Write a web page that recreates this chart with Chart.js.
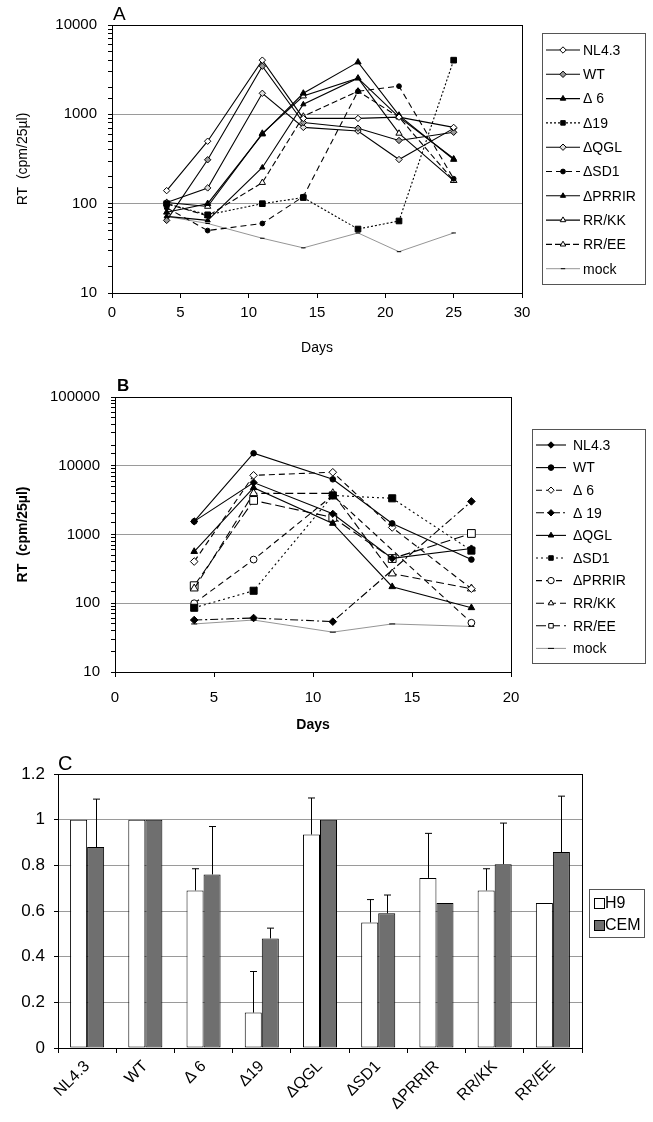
<!DOCTYPE html>
<html>
<head>
<meta charset="utf-8">
<title>RT activity of Nef mutants</title>
<script src="https://cdn.jsdelivr.net/npm/chart.js@4.4.1/dist/chart.umd.min.js"></script>
<style>
  html, body { margin: 0; padding: 0; background: #fff; }
  body { position: relative; width: 653px; height: 1122px; overflow: hidden; }
  .panel { position: absolute; left: 0; width: 653px; }
</style>
</head>
<body>
<div class="panel" style="top:0;height:365px"><canvas id="chartA" width="653" height="365"></canvas></div>
<div class="panel" style="top:365px;height:375px"><canvas id="chartB" width="653" height="375"></canvas></div>
<div class="panel" style="top:740px;height:382px"><canvas id="chartC" width="653" height="382"></canvas></div>
<script>
// ---- panel A: RT in H9 cells (cpm/25µl) ----
const daysA = [4, 7, 11, 14, 18, 21, 25];
const namesA = ["NL4.3", "WT", "\u0394 6", "\u039419", "\u0394QGL", "\u0394SD1", "\u0394PRRIR", "RR/KK", "RR/EE", "mock"];
const a_NL43   = [140, 500, 4040, 900, 900, 930, 714];
const a_WT     = [65, 310, 3460, 810, 700, 510, 630];
const a_d6     = [80, 100, 600, 1720, 3840, 975, 312];
const a_d19    = [100, 75, 100, 117, 52, 64, 4040];
const a_dQGL   = [103, 150, 1720, 714, 650, 312, 696];
const a_dSD1   = [90, 50, 60, 120, 1813, 2065, 190];
const a_dPRRIR = [72, 65, 254, 1295, 2540, 930, 320];
const a_RRKK   = [103, 93, 612, 1600, 2540, 612, 181];
const a_RREE   = [100, 73, 172, 950, 1813, 930, 181];
const a_mock   = [72, 60, 41, 32, 47, 29, 47];

// ---- panel B: RT in CEM cells ----
const daysB = [4, 7, 11, 14, 18];
const namesB = ["NL4.3", "WT", "\u0394 6", "\u0394 19", "\u0394QGL", "\u0394SD1", "\u0394PRRIR", "RR/KK", "RR/EE", "mock"];
const b_NL43   = [1550, 5700, 2000, 450, 625];
const b_WT     = [1550, 15200, 6350, 1450, 432];
const b_d6     = [404, 7260, 8040, 1265, 163];
const b_d19    = [57, 61, 54, null, 3030];
const b_dQGL   = [565, 4800, 1450, 174, 86];
const b_dSD1   = [86, 152, 3700, 3360, 583];
const b_dPRRIR = [100, 432, 3700, null, 52];
const b_RRKK   = [163, 3970, 3970, 270, 163];
const b_RREE   = [180, 3130, 1770, 447, 1035];
const b_mock   = [50, 57, 38, 50, 46];

// ---- panel C: relative infectivity ----
const mutants = ["NL4.3", "WT", "\u0394 6", "\u039419", "\u0394QGL", "\u0394SD1", "\u0394PRRIR", "RR/KK", "RR/EE"];
const h9   = [1.0, 1.0, 0.69, 0.155, 0.935, 0.55, 0.745, 0.69, 0.635];
const h9Err  = [null, null, 0.095, 0.18, 0.16, 0.10, 0.195, 0.095, null];
const cem  = [0.88, 1.0, 0.76, 0.48, 1.0, 0.59, 0.635, 0.805, 0.858];
const cemErr = [0.21, null, 0.21, 0.045, null, 0.08, null, 0.18, 0.245];

Chart.defaults.font.family = '"Liberation Sans", Arial, Helvetica, sans-serif';
Chart.defaults.color = "#000";
Chart.defaults.animation = false;

function marker(ctx, style, r, x, y) {
  if (Chart.helpers && Chart.helpers.drawPoint) {
    Chart.helpers.drawPoint(ctx, { pointStyle: style, radius: r, rotation: 0, borderWidth: 1 }, x, y);
    return;
  }
  ctx.beginPath();
  ctx.arc(x, y, r, 0, Math.PI * 2);
  ctx.fill();
  ctx.stroke();
}

// frame round the plot, panel letter, boxed legend
const decor = {
  id: "decor",
  beforeDatasetsDraw(chart) {
    const { ctx, chartArea: a } = chart;
    ctx.save();
    ctx.strokeStyle = "#000";
    ctx.lineWidth = 1;
    ctx.strokeRect(Math.round(a.left) + 0.5, Math.round(a.top) + 0.5,
      Math.round(a.right - a.left), Math.round(a.bottom - a.top));
    ctx.restore();
  },
  afterDraw(chart, args, o) {
    const ctx = chart.ctx;
    ctx.save();
    ctx.fillStyle = "#000";
    ctx.font = o.letterFont;
    ctx.textBaseline = "alphabetic";
    ctx.fillText(o.letter, o.letterX, o.letterY);

    const L = o.legend;
    ctx.strokeStyle = "#555";
    ctx.lineWidth = 1;
    ctx.strokeRect(L.x + 0.5, L.y + 0.5, L.w, L.h);
    ctx.font = L.font;
    ctx.textBaseline = "middle";
    chart.data.datasets.forEach((ds, i) => {
      const cy = L.first + i * L.step;
      if (L.bars) {
        ctx.fillStyle = ds.backgroundColor;
        ctx.strokeStyle = "#000";
        ctx.fillRect(L.x + 5, cy - 5, 10, 10);
        ctx.strokeRect(L.x + 5.5, cy - 4.5, 10, 10);
      } else {
        ctx.strokeStyle = ds.borderColor;
        ctx.lineWidth = ds.borderWidth;
        ctx.setLineDash(ds.borderDash || []);
        ctx.beginPath();
        ctx.moveTo(L.x + 4, cy);
        ctx.lineTo(L.x + 4 + L.lineLen, cy);
        ctx.stroke();
        ctx.setLineDash([]);
        ctx.lineWidth = 1;
        ctx.fillStyle = ds.pointBackgroundColor;
        ctx.strokeStyle = "#000";
        marker(ctx, ds.pointStyle, Math.min(ds.pointRadius, 3.2), L.x + 4 + L.lineLen / 2, cy);
      }
      ctx.fillStyle = "#000";
      ctx.fillText(ds.label, L.textX, cy + 1);
    });
    ctx.restore();
  }
};

// upper error bars for panel C
const errorBars = {
  id: "errorBars",
  afterDatasetsDraw(chart) {
    const ctx = chart.ctx, yScale = chart.scales.y;
    ctx.save();
    ctx.strokeStyle = "#000";
    ctx.lineWidth = 1;
    chart.data.datasets.forEach((ds, di) => {
      if (!ds.errors) return;
      chart.getDatasetMeta(di).data.forEach((bar, i) => {
        const e = ds.errors[i];
        if (e == null) return;
        const x = Math.round(bar.x) + 0.5;
        const top = yScale.getPixelForValue(ds.data[i] + e);
        ctx.beginPath();
        ctx.moveTo(x, bar.y);
        ctx.lineTo(x, top);
        ctx.moveTo(x - 3.5, top);
        ctx.lineTo(x + 3.5, top);
        ctx.stroke();
      });
    });
    ctx.restore();
  }
};

function lineSet(label, days, values, style) {
  return Object.assign({
    label,
    data: days.map((d, i) => ({ x: d, y: values[i] })),
    borderColor: "#000",
    borderWidth: 1.1,
    pointBorderColor: "#000",
    pointBorderWidth: 1,
    tension: 0,
    fill: false,
    spanGaps: true
  }, style);
}

const isDecade = v => Math.abs(Math.log10(v) - Math.round(Math.log10(v))) < 1e-9;

function logOptions(o) {
  return {
    responsive: false,
    layout: { padding: o.padding },
    plugins: { legend: { display: false }, tooltip: { enabled: false }, decor: o.decor },
    scales: {
      x: {
        type: "linear", min: 0, max: o.xMax,
        afterFit: s => { s.height = o.xHeight; },
        ticks: { stepSize: 5, font: { size: 15 }, padding: o.xTickPad },
        grid: { drawOnChartArea: false, tickLength: 5, tickColor: "#000" },
        border: { display: false },
        title: { display: true, text: "Days", font: { size: 14, weight: o.bold ? "bold" : "normal" }, padding: o.titlePad }
      },
      y: {
        type: "logarithmic", min: 10, max: o.yMax,
        afterFit: s => { s.width = o.yWidth; },
        ticks: { font: { size: 15 }, padding: 11, autoSkip: false,
          callback: v => isDecade(v) ? String(v) : "" },
        grid: {
          color: c => (c.tick && isDecade(c.tick.value)) ? "#9a9a9a" : "rgba(0,0,0,0)",
          tickColor: "#000", tickLength: 4
        },
        border: { display: false },
        title: { display: true, text: "RT  (cpm/25\u00b5l)", font: { size: 14, weight: o.bold ? "bold" : "normal" }, padding: { top: 15, bottom: 6 } }
      }
    }
  };
}

// ---- chart A ----
const valuesA = [a_NL43, a_WT, a_d6, a_d19, a_dQGL, a_dSD1, a_dPRRIR, a_RRKK, a_RREE, a_mock];
const stylesA = [
  { pointStyle: "rectRot", pointRadius: 3.2, pointBackgroundColor: "#fff" },
  { pointStyle: "rectRot", pointRadius: 3.2, pointBackgroundColor: "#999" },
  { pointStyle: "triangle", pointRadius: 3.6, pointBackgroundColor: "#000" },
  { pointStyle: "rect", pointRadius: 4, pointBackgroundColor: "#000", borderDash: [2, 2] },
  { pointStyle: "rectRot", pointRadius: 3.2, pointBackgroundColor: "#ddd" },
  { pointStyle: "circle", pointRadius: 2.4, pointBackgroundColor: "#000", borderDash: [6, 4] },
  { pointStyle: "triangle", pointRadius: 3, pointBackgroundColor: "#000" },
  { pointStyle: "triangle", pointRadius: 3.6, pointBackgroundColor: "#fff" },
  { pointStyle: "triangle", pointRadius: 3.6, pointBackgroundColor: "#fff", borderDash: [6, 3] },
  { pointStyle: "line", pointRadius: 2.2, pointBackgroundColor: "#000", borderColor: "#7a7a7a", borderWidth: 0.8 }
];
new Chart(document.getElementById("chartA"), {
  type: "line",
  data: { datasets: namesA.map((n, i) => lineSet(n, daysA, valuesA[i], stylesA[i])) },
  options: logOptions({
    padding: { left: 0, right: 131, top: 25, bottom: 0 },
    xMax: 30, yMax: 10000, xHeight: 72, yWidth: 112, bold: false, xTickPad: 6,
    titlePad: { top: 10, bottom: 8 },
    decor: {
      letter: "A", letterFont: "19px 'Liberation Sans', Arial", letterX: 113, letterY: 20,
      legend: { x: 542, y: 33, w: 103, h: 251, first: 50, step: 24.3, lineLen: 34, textX: 583, font: "14px 'Liberation Sans', Arial" }
    }
  }),
  plugins: [decor]
});

// ---- chart B ----
const valuesB = [b_NL43, b_WT, b_d6, b_d19, b_dQGL, b_dSD1, b_dPRRIR, b_RRKK, b_RREE, b_mock];
const stylesB = [
  { pointStyle: "rectRot", pointRadius: 3.6, pointBackgroundColor: "#000" },
  { pointStyle: "circle", pointRadius: 2.8, pointBackgroundColor: "#000" },
  { pointStyle: "rectRot", pointRadius: 3.8, pointBackgroundColor: "#fff", borderDash: [6, 4] },
  { pointStyle: "rectRot", pointRadius: 3.8, pointBackgroundColor: "#000", borderDash: [8, 3, 2, 3] },
  { pointStyle: "triangle", pointRadius: 3.8, pointBackgroundColor: "#000" },
  { pointStyle: "rect", pointRadius: 5, pointBackgroundColor: "#000", borderDash: [2, 3] },
  { pointStyle: "circle", pointRadius: 3.4, pointBackgroundColor: "#fff", borderDash: [6, 4] },
  { pointStyle: "triangle", pointRadius: 4.6, pointBackgroundColor: "#fff", borderDash: [8, 4] },
  { pointStyle: "rect", pointRadius: 5.5, pointBackgroundColor: "#fff", borderDash: [10, 4] },
  { pointStyle: "line", pointRadius: 3, pointBackgroundColor: "#000", borderColor: "#7a7a7a", borderWidth: 0.8 }
];
new Chart(document.getElementById("chartB"), {
  type: "line",
  data: { datasets: namesB.map((n, i) => lineSet(n, daysB, valuesB[i], stylesB[i])) },
  options: logOptions({
    padding: { left: 0, right: 142, top: 32, bottom: 0 },
    xMax: 20, yMax: 100000, xHeight: 68, yWidth: 115, bold: true, xTickPad: 12,
    titlePad: { top: 8, bottom: 6 },
    decor: {
      letter: "B", letterFont: "bold 17px 'Liberation Sans', Arial", letterX: 117, letterY: 26,
      legend: { x: 532, y: 64, w: 113, h: 234, first: 80, step: 22.6, lineLen: 30, textX: 573, font: "14px 'Liberation Sans', Arial" }
    }
  }),
  plugins: [decor]
});

// ---- chart C ----
new Chart(document.getElementById("chartC"), {
  type: "bar",
  data: {
    labels: mutants,
    datasets: [
      { label: "H9", data: h9, errors: h9Err, backgroundColor: "#ffffff", borderColor: "#000", borderWidth: 1, borderSkipped: false, barPercentage: 1, categoryPercentage: 0.585 },
      { label: "CEM", data: cem, errors: cemErr, backgroundColor: "#6f6f6f", borderColor: "#000", borderWidth: 1, borderSkipped: false, barPercentage: 1, categoryPercentage: 0.585 }
    ]
  },
  options: {
    responsive: false,
    layout: { padding: { left: 0, right: 71, top: 34, bottom: 0 } },
    plugins: {
      legend: { display: false }, tooltip: { enabled: false },
      decor: {
        letter: "C", letterFont: "20px 'Liberation Sans', Arial", letterX: 58, letterY: 30,
        legend: { x: 589, y: 149, w: 55, h: 48, first: 163, step: 22, bars: true, textX: 605, font: "16px 'Liberation Sans', Arial" }
      }
    },
    scales: {
      x: {
        afterFit: s => { s.height = 74; },
        ticks: { font: { size: 16 }, minRotation: 45, maxRotation: 45, padding: 4 },
        grid: { drawOnChartArea: false, tickLength: 5, tickColor: "#000", offset: true },
        border: { display: false }
      },
      y: {
        min: 0, max: 1.2,
        afterFit: s => { s.width = 58; },
        ticks: { stepSize: 0.2, font: { size: 17 }, padding: 9,
          callback: v => String(Math.round(v * 10) / 10) },
        grid: {
          color: c => (c.tick && c.tick.value > 0.01 && c.tick.value < 1.19) ? "#9a9a9a" : "rgba(0,0,0,0)",
          tickColor: "#000", tickLength: 4
        },
        border: { display: false }
      }
    }
  },
  plugins: [decor, errorBars]
});
</script>
</body>
</html>
